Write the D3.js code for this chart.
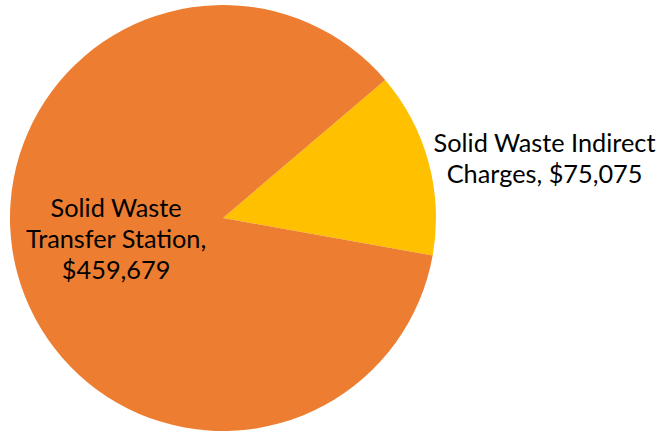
<!DOCTYPE html>
<html>
<head>
<meta charset="utf-8">
<script src="https://cdn.jsdelivr.net/npm/d3@7"></script>
<style>
  body { margin: 0; background: #fff; }
  svg text { font-family: Lato, "Open Sans", sans-serif; fill: #000; }
</style>
</head>
<body>
<div id="chart"></div>
<script>
// data
var categories = ["Solid Waste Indirect Charges", "Solid Waste Transfer Station"];
var values = [75075, 459679];
var labelLines = [["Solid Waste Indirect", "Charges, $75,075"], ["Solid Waste", "Transfer Station,", "$459,679"]];
var colors = ["#FFC000", "#ED7D31"];

var width = 661, height = 433;
var cx = 223, cy = 218, radius = 213;
var fontSize = 25.3, lineHeight = 31;

var svg = d3.select("#chart")
  .append("svg")
    .attr("width", width)
    .attr("height", height);

var g = svg.append("g")
    .attr("transform", "translate(" + cx + "," + cy + ")");

var startDeg = 49.6;
var pie = d3.pie()
    .sort(null)
    .value(function(d) { return d; })
    .startAngle(startDeg * Math.PI / 180)
    .endAngle((startDeg + 360) * Math.PI / 180);

var arc = d3.arc().innerRadius(0).outerRadius(radius);
var arcs = pie(values);

g.selectAll("path")
  .data(arcs)
  .enter()
  .append("path")
    .attr("d", arc)
    .style("fill", function(d, i) { return colors[i]; });

// labels
arcs.forEach(function(d, i) {
  var mid = (d.startAngle + d.endAngle) / 2;
  var lines = labelLines[i];
  var texts = g.append("g").selectAll("text")
    .data(lines)
    .enter()
    .append("text")
      .attr("text-anchor", "middle")
      .style("font-size", fontSize + "px")
      .text(function(t) { return t; });
  var maxW = 0;
  texts.each(function() { maxW = Math.max(maxW, this.getComputedTextLength()); });
  var x, y;
  if (i === 0) {
    // outside: block starts just right of outer arc point
    var ox = radius * Math.sin(mid), oy = -radius * Math.cos(mid);
    x = ox + 5 + maxW / 2;
    y = oy - 4;
  } else {
    var r = radius * 0.52;
    x = r * Math.sin(mid);
    y = -r * Math.cos(mid) - 8;
  }
  var n = lines.length;
  texts
    .attr("x", x)
    .attr("y", function(t, k) { return y + (k - (n - 1) / 2) * lineHeight + fontSize * 0.36; });
});
</script>
</body>
</html>
